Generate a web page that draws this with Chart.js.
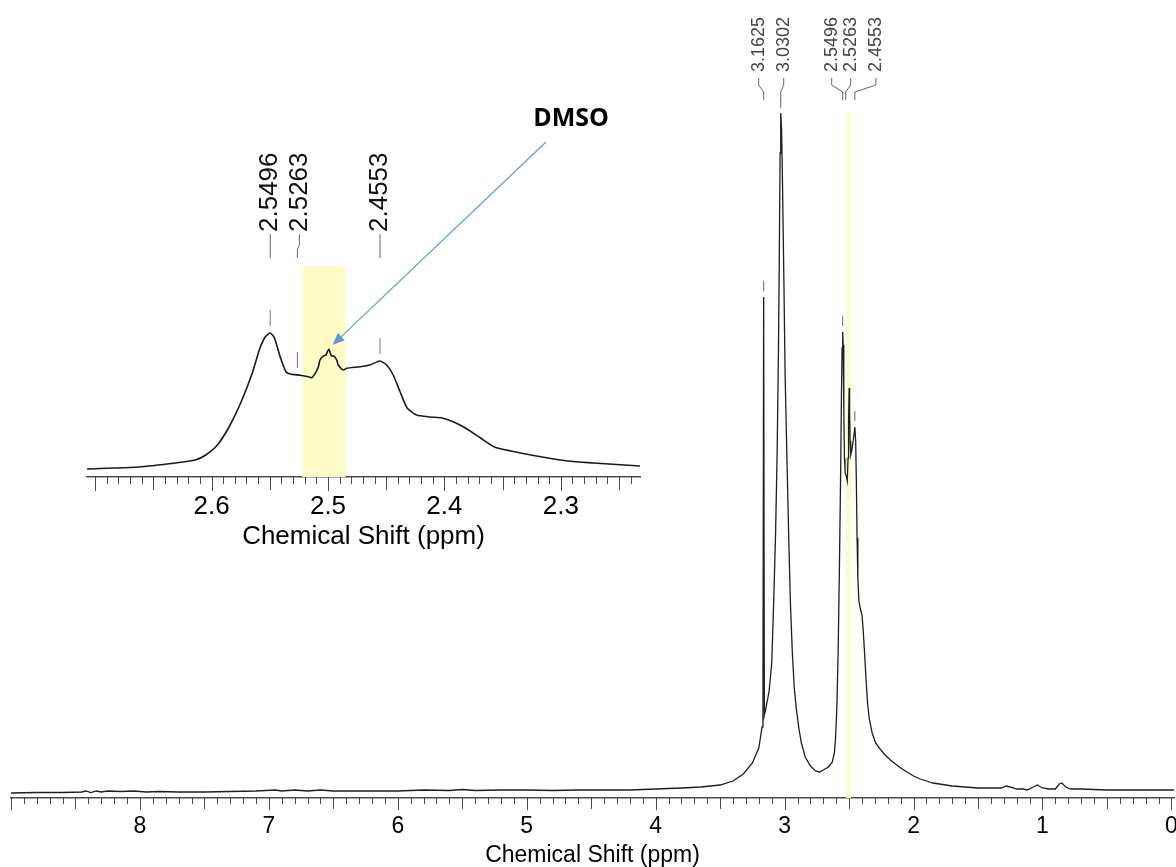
<!DOCTYPE html>
<html>
<head>
<meta charset="utf-8">
<script src="https://cdn.jsdelivr.net/npm/chart.js@4.4.1/dist/chart.umd.min.js"></script>
<style>
  html, body { margin: 0; padding: 0; background: #fff; }
  #wrap { position: relative; width: 1176px; height: 867px; overflow: hidden; }
  #main, #inset { position: absolute; left: 0; top: 0; }
</style>
</head>
<body>
<div id="wrap">
  <canvas id="main" width="1176" height="867"></canvas>
  <canvas id="inset" width="700" height="560"></canvas>
</div>
<script>
// --- datos del espectro (ppm, intensidad) ---
const mainPpm = [9.00, 8.80, 8.60, 8.45, 8.42, 8.38, 8.34, 8.30, 8.25, 8.15, 8.05, 7.95, 7.85, 7.70, 7.50, 7.30, 7.10, 6.95, 6.90, 6.80,
  6.70, 6.60, 6.50, 6.30, 6.00, 5.80, 5.60, 5.50, 5.40, 5.20, 5.00, 4.80, 4.60, 4.40, 4.20, 4.00, 3.80, 3.65, 3.50, 3.40,
  3.32, 3.25, 3.20, 3.175, 3.168, 3.1625, 3.157, 3.145, 3.12, 3.10, 3.085, 3.07, 3.058, 3.048, 3.041, 3.035, 3.030, 3.024, 3.018, 3.006,
  2.996, 2.982, 2.968, 2.955, 2.94, 2.925, 2.91, 2.89, 2.87, 2.84, 2.80, 2.76, 2.73, 2.70, 2.66, 2.63, 2.614, 2.605, 2.595, 2.585,
  2.575, 2.565, 2.559, 2.554, 2.5496, 2.546, 2.541, 2.536, 2.53, 2.52, 2.514, 2.508, 2.504, 2.4995, 2.496, 2.492, 2.487, 2.48, 2.468, 2.4553,
  2.449, 2.444, 2.438, 2.432, 2.424, 2.412, 2.40, 2.392, 2.382, 2.369, 2.357, 2.343, 2.321, 2.294, 2.26, 2.22, 2.18, 2.15, 2.10, 2.05,
  2.00, 1.95, 1.90, 1.85, 1.80, 1.70, 1.60, 1.50, 1.40, 1.32, 1.28, 1.25, 1.20, 1.15, 1.12, 1.07, 1.04, 1.00, 0.95, 0.90,
  0.87, 0.85, 0.82, 0.78, 0.70, 0.50, 0.30, 0.10, -0.02];
const mainInt = [0, 0.5, 0.5, 1, 2, 0.5, 2, 1, 2, 1.5, 2, 1, 1.5, 1, 1, 1.5, 2, 3, 2, 3,
  2, 3, 2, 2, 2, 3, 2.5, 3.5, 2.5, 3, 3, 2.5, 3, 3, 3, 4, 5, 6, 8, 12,
  19, 30, 45, 66, 75, 496, 78, 85, 102, 130, 190, 260, 340, 440, 540, 640, 680, 665, 625, 515,
  418, 335, 255, 190, 140, 105, 85, 65, 50, 36, 27, 22, 21, 23, 26, 31, 40, 55, 85, 140,
  225, 325, 400, 445, 461, 448, 385, 335, 320, 316, 312, 335, 370, 405, 380, 352, 338, 342, 352, 366,
  352, 315, 255, 215, 192, 184, 178, 165, 145, 115, 90, 74, 60, 50, 44, 38, 33, 30, 25, 21,
  17, 14, 12, 10, 9, 7, 6, 5, 5, 5, 7, 6, 4, 4, 3, 6, 8, 5, 4, 4,
  9, 10, 6, 4, 4, 3, 3, 3, 3];

// ampliacion 2.2 - 2.7 ppm
const insetPpm = [2.707, 2.663, 2.631, 2.614, 2.605, 2.595, 2.585, 2.575, 2.565, 2.559, 2.554, 2.5496, 2.546, 2.541, 2.536, 2.5326,
  2.524, 2.517, 2.514, 2.511, 2.5083, 2.5069, 2.504, 2.5017, 2.5006, 2.4991, 2.498, 2.4968, 2.4948, 2.4925, 2.4912, 2.4869,
  2.484, 2.4725, 2.464, 2.4554, 2.4496, 2.444, 2.438, 2.432, 2.424, 2.412, 2.402, 2.392, 2.382, 2.369, 2.357, 2.343,
  2.321, 2.294, 2.272, 2.232];
const insetInt = [1, 3, 7, 10, 15, 25, 43, 67, 97, 120, 133, 137, 132, 113, 98, 96,
  94.7, 93.3, 92.3, 96.7, 103, 110, 114, 115, 118.3, 120.7, 116.7, 114, 114, 110, 105, 100,
  101.7, 103.3, 105, 109, 105, 95, 78, 62, 55, 53, 52, 48, 42, 32, 23, 19,
  14, 9, 7, 4];

const mainTicks = [8, 7, 6, 5, 4, 3, 2, 1, 0];
const insetTicks = [2.6, 2.5, 2.4, 2.3];
const mainPeaks = [3.1625, 3.0302, 2.5496, 2.5263, 2.4553];
const insetPeaks = [2.5496, 2.5263, 2.4553];
const dmsoBand = [2.522, 2.485];
const dmsoShift = 2.4995;

const FONT = "'Liberation Sans', Arial, sans-serif";
const BAND = '#fdfcc6';

function interp(xs, ys, x) {
  for (let i = 0; i < xs.length - 1; i++) {
    if (x <= xs[i] && x >= xs[i + 1]) {
      const t = (x - xs[i]) / (xs[i + 1] - xs[i]);
      return ys[i] + t * (ys[i + 1] - ys[i]);
    }
  }
  return 0;
}

// --- plugins ---
function bandPlugin(topVal) {
  return {
    id: 'band',
    beforeDatasetsDraw(chart) {
      const { ctx, chartArea: a, scales: { x, y } } = chart;
      const x1 = x.getPixelForValue(dmsoBand[0]), x2 = x.getPixelForValue(dmsoBand[1]);
      const yt = topVal == null ? a.top : y.getPixelForValue(topVal);
      ctx.save();
      ctx.fillStyle = BAND;
      ctx.fillRect(x1, yt, x2 - x1, a.bottom - yt);
      ctx.restore();
    }
  };
}

function tickPlugin(c) {
  return {
    id: 'ppmTicks',
    afterDraw(chart) {
      const { ctx, chartArea: a, scales: { x } } = chart;
      const n0 = Math.ceil(x.min / c.step - 1e-6), n1 = Math.floor(x.max / c.step + 1e-6);
      ctx.save();
      ctx.strokeStyle = c.color;
      ctx.lineWidth = 1;
      ctx.beginPath();
      for (let n = n0; n <= n1; n++) {
        let len = c.minor;
        if (n % c.perMajor === 0) len = c.major;
        else if (n % c.perMid === 0) len = c.mid;
        const px = Math.round(x.getPixelForValue(n * c.step)) + 0.5;
        ctx.moveTo(px, a.bottom);
        ctx.lineTo(px, a.bottom + len);
      }
      ctx.stroke();
      ctx.restore();
    }
  };
}

function labelPlugin(c) {
  return {
    id: 'peakLabels',
    afterDatasetsDraw(chart) {
      const { ctx, scales: { x, y } } = chart;
      ctx.save();
      c.values.forEach((v, i) => {
        const px = x.getPixelForValue(v);
        const lx = px + c.dx[i];
        ctx.strokeStyle = c.lineColor;
        ctx.lineWidth = 1;
        ctx.beginPath();
        ctx.moveTo(lx, c.lineTop);
        ctx.lineTo(lx, c.bend1);
        ctx.lineTo(px, c.bend2);
        ctx.lineTo(px, c.lineBottom);
        ctx.stroke();
        // marca sobre el pico
        const py = y.getPixelForValue(interp(c.xs, c.ys, v));
        ctx.strokeStyle = c.markColor;
        ctx.beginPath();
        ctx.moveTo(px, py - c.markGap - c.markLen);
        ctx.lineTo(px, py - c.markGap);
        ctx.stroke();
        // texto vertical
        ctx.save();
        ctx.translate(lx, c.textBottom);
        ctx.rotate(-Math.PI / 2);
        ctx.font = c.font;
        ctx.fillStyle = c.textColor;
        ctx.textAlign = 'left';
        ctx.textBaseline = 'middle';
        ctx.fillText(v.toFixed(4), 0, 0);
        ctx.restore();
      });
      ctx.restore();
    }
  };
}

const dmsoPlugin = {
  id: 'dmso',
  afterDatasetsDraw(chart) {
    const { ctx, scales: { x, y } } = chart;
    const tx = x.getPixelForValue(dmsoShift) + 4;
    const ty = y.getPixelForValue(interp(insetPpm, insetInt, dmsoShift)) - 5;
    const sx = 546, sy = 142;
    const ang = Math.atan2(ty - sy, tx - sx);
    const hl = 12, hw = 5;
    const bx = tx - hl * Math.cos(ang), by = ty - hl * Math.sin(ang);
    ctx.save();
    ctx.strokeStyle = '#5b9bd5';
    ctx.fillStyle = '#5b9bd5';
    ctx.lineWidth = 1.2;
    ctx.beginPath();
    ctx.moveTo(sx, sy);
    ctx.lineTo(bx, by);
    ctx.stroke();
    ctx.beginPath();
    ctx.moveTo(tx, ty);
    ctx.lineTo(bx + hw * Math.sin(ang), by - hw * Math.cos(ang));
    ctx.lineTo(bx - hw * Math.sin(ang), by + hw * Math.cos(ang));
    ctx.closePath();
    ctx.fill();
    ctx.font = "bold 25px 'Open Sans', 'Liberation Sans', sans-serif";
    ctx.fillStyle = '#000';
    ctx.textAlign = 'center';
    ctx.textBaseline = 'middle';
    ctx.fillText('DMSO', 571, 119);
    ctx.restore();
  }
};

function xAxis(cfg) {
  return {
    type: 'linear', reverse: true, min: cfg.min, max: cfg.max,
    afterBuildTicks: s => { s.ticks = cfg.ticks.map(v => ({ value: v })); },
    afterFit: s => { s.height = cfg.height; s.paddingLeft = 0; s.paddingRight = 0; },
    grid: { drawOnChartArea: false, drawTicks: true, tickLength: cfg.tickLength, tickColor: 'rgba(0,0,0,0)' },
    border: { display: true, color: '#4a4a4a', width: 1.5 },
    ticks: { color: '#000', padding: cfg.pad, autoSkip: false, maxRotation: 0,
      font: { family: FONT, size: cfg.fontSize }, callback: v => String(v) },
    title: { display: true, text: 'Chemical Shift (ppm)', color: '#000', padding: 0,
      font: { family: FONT, size: cfg.fontSize, lineHeight: 1 } }
  };
}

// --- grafico principal ---
new Chart(document.getElementById('main'), {
  type: 'line',
  data: {
    datasets: [{
      data: mainPpm.map((p, i) => ({ x: p, y: mainInt[i] })),
      borderColor: '#1e1e1e', borderWidth: 1.3, pointRadius: 0, tension: 0, fill: false
    }]
  },
  options: {
    responsive: false, animation: false, devicePixelRatio: 1,
    layout: { autoPadding: false, padding: { top: 20, left: 11, right: 2, bottom: 0 } },
    plugins: { legend: { display: false }, tooltip: { enabled: false } },
    scales: {
      x: xAxis({ min: -0.02, max: 9.0, ticks: mainTicks, height: 69, tickLength: 12, pad: 3, fontSize: 23 }),
      y: { display: false, min: -5, max: 773 }
    }
  },
  plugins: [
    bandPlugin(681),
    tickPlugin({ step: 0.1, perMid: 5, perMajor: 10, minor: 6, mid: 11, major: 12, color: '#4a4a4a' }),
    labelPlugin({ values: mainPeaks, dx: [-5, 3, -11, 5, 21], xs: mainPpm, ys: mainInt,
      lineTop: 78, bend1: 85, bend2: 92, lineBottom: 100, textBottom: 72,
      markGap: 6, markLen: 10, font: '18px ' + FONT, textColor: '#444', lineColor: '#666', markColor: '#666' })
  ]
});

// --- recuadro ampliado ---
new Chart(document.getElementById('inset'), {
  type: 'line',
  data: {
    datasets: [{
      data: insetPpm.map((p, i) => ({ x: p, y: insetInt[i] })),
      borderColor: '#1a1a1a', borderWidth: 1.6, pointRadius: 0, tension: 0.2, fill: false
    }]
  },
  options: {
    responsive: false, animation: false, devicePixelRatio: 1,
    layout: { autoPadding: false, padding: { top: 266, left: 87, right: 60, bottom: 10 } },
    plugins: { legend: { display: false }, tooltip: { enabled: false } },
    scales: {
      x: xAxis({ min: 2.232, max: 2.707, ticks: insetTicks, height: 73, tickLength: 14, pad: 0, fontSize: 26 }),
      y: { display: false, min: -7, max: 204 }
    }
  },
  plugins: [
    bandPlugin(null),
    tickPlugin({ step: 0.01, perMid: 5, perMajor: 10, minor: 7, mid: 13, major: 14, color: '#4a4a4a' }),
    labelPlugin({ values: insetPeaks, dx: [0, 2, 0], xs: insetPpm, ys: insetInt,
      lineTop: 234, bend1: 245, bend2: 250, lineBottom: 258, textBottom: 232,
      markGap: 7, markLen: 16, font: '26px ' + FONT, textColor: '#111', lineColor: '#666', markColor: '#777' }),
    dmsoPlugin
  ]
});
</script>
</body>
</html>
